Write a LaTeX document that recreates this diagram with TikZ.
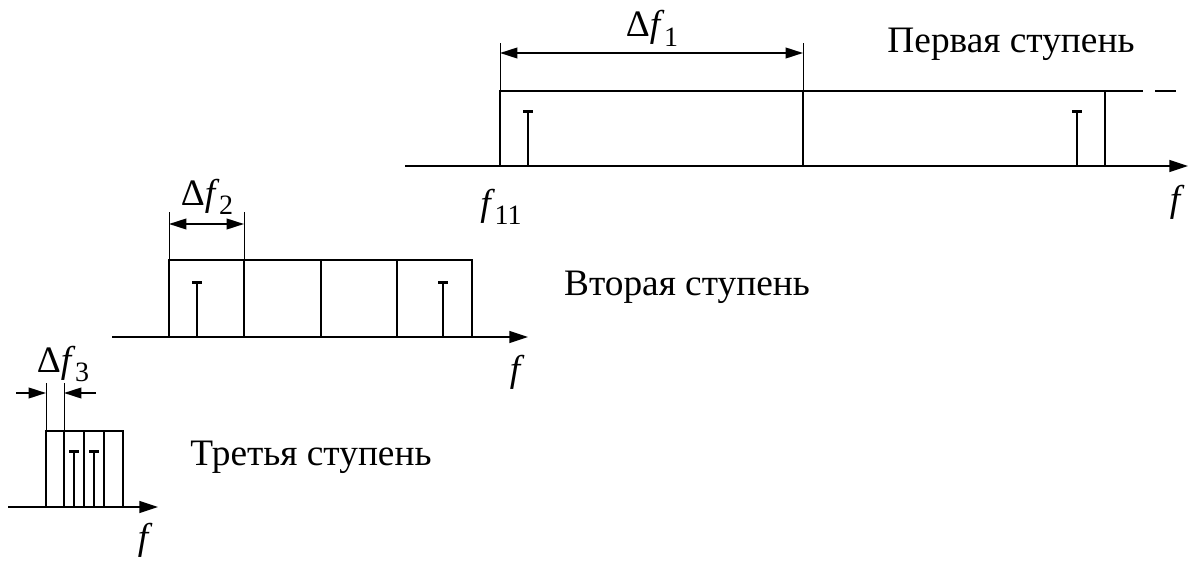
\documentclass[tikz,border=0pt]{standalone}
\usepackage{fontspec}
\setmainfont{Liberation Serif}
\newfontfamily\itserif{Liberation Serif Italic}
\usetikzlibrary{arrows.meta,positioning,calc}
\newcommand{\fvar}{{\itserif f}}
\newcommand{\fsub}[1]{\fvar\kern0.1em\raisebox{-0.26em}{\fontsize{21}{21}\selectfont #1}}

\begin{document}
\begin{tikzpicture}[x=0.75pt,y=-0.75pt,
  every node/.style={font=\fontsize{28}{32}\selectfont,inner sep=0pt},
  axis/.style={line width=1.1pt,-{Triangle[length=14pt,width=9pt]}},
  band/.style={line width=2pt},
  carrier/.style={line width=2pt,-{Bar[width=7.5pt]}},
  extline/.style={line width=0.7pt},
  dimarrow/.style={line width=1.3pt,{Triangle[length=13pt,width=8pt]}-{Triangle[length=13pt,width=8pt]}},
  inarrow/.style={line width=1.3pt,-{Triangle[length=13pt,width=8pt]}}]
  \useasboundingbox (0,0) rectangle (1192,563);

  % First stage
  \draw[axis] (405,166) -- (1188,166);
  \draw[band] (500,166) -- (500,91) -- (1143,91);
  \draw[band] (1155,91) -- (1176,91);
  \foreach \x in {803,1105} \draw[band] (\x,166) -- (\x,91);
  \foreach \x in {528,1077} \draw[carrier] (\x,166) -- (\x,110);
  \coordinate (d1l) at (500,53);
  \coordinate (d1r) at (803,53);
  \draw[extline] (500,91) -- (500,43);
  \draw[extline] (803,91) -- (803,43);
  \draw[dimarrow] (d1l) -- (d1r);
  \node[anchor=base] (df1) at (652,37) {Δ\fsub{1}};
  \node[anchor=base] (f11) at (501,215) {\fsub{11}};
  \node[anchor=base] (fa) at (1175,211) {\fvar};
  \node[anchor=base] (st1) at (1011,53) {Первая ступень};

  % Second stage
  \draw[axis] (112,337) -- (528,337);
  \draw[band] (169,337) |- (472,260) -- (472,337);
  \foreach \x in {244,321,397} \draw[band] (\x,337) -- (\x,260);
  \foreach \x in {197,443} \draw[carrier] (\x,337) -- (\x,281);
  \coordinate (d2l) at (169,224);
  \coordinate (d2r) at (244,224);
  \draw[extline] (169,260) -- (169,212);
  \draw[extline] (244,260) -- (244,212);
  \draw[dimarrow] (d2l) -- (d2r);
  \node[anchor=base] (df2) at (207,205) {Δ\fsub{2}};
  \node[anchor=base] (fb) at (515,381) {\fvar};
  \node[anchor=base] (st2) at (687,295) {Вторая ступень};

  % Third stage
  \draw[axis] (8,507) -- (158,507);
  \draw[band] (46,507) |- (123,431) -- (123,507);
  \foreach \x in {64,84,104} \draw[band] (\x,507) -- (\x,431);
  \foreach \x in {74,94} \draw[carrier] (\x,507) -- (\x,450);
  \coordinate (d3l) at (46,393);
  \coordinate (d3r) at (64,393);
  \draw[extline] (46,431) -- (46,383);
  \draw[extline] (64,431) -- (64,383);
  \draw[inarrow] (16,393) -- (d3l);
  \draw[inarrow] (96,393) -- (d3r);
  \node[anchor=base] (df3) at (63,372) {Δ\fsub{3}};
  \node[anchor=base] (fc) at (143,549) {\fvar};
  \node[anchor=base] (st3) at (311,465) {Третья ступень};
\end{tikzpicture}
\end{document}
